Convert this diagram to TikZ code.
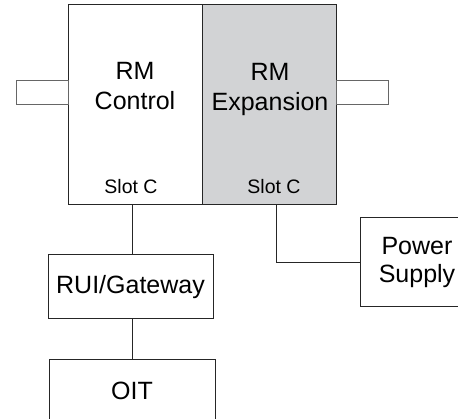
\documentclass[tikz,border=0pt]{standalone}
\usepackage{fontspec}
\setmainfont{Liberation Sans}

\definecolor{expgray}{RGB}{210,211,213}

\tikzset{
	box/.style = {draw = black!85, inner sep = 0pt, align = center, font = \fontsize{25pt}{28pt}\selectfont},
	stub/.style = {draw = black!60, inner sep = 0pt, minimum width = 52pt, minimum height = 24.5pt},
	slotlabel/.style = {inner sep = 0pt, font = \fontsize{19.5pt}{22pt}\selectfont},
	rmlabel/.style = {inner sep = 0pt, align = center, font = \fontsize{25pt}{30pt}\selectfont},
}

\begin{document}
\begin{tikzpicture}[yscale = -1, line width = 1pt]
	\useasboundingbox (0, 0) rectangle (458pt, 419pt);

	% Module
	\node [box, minimum width = 134pt, minimum height = 200pt] (ctrl) at (135pt, 105pt) {};
	\node [box, fill = expgray, minimum width = 134pt, minimum height = 200pt] (exp) at (269pt, 105pt) {};
	\node [stub] (stubl) at (42pt, 92.3pt) {};
	\node [stub] (stubr) at (362pt, 92.3pt) {};

	\node [rmlabel] (ctrlname) at (135pt, 86.5pt) {RM\\Control};
	\node [rmlabel] (expname) at (270pt, 89pt) {RM\\Expansion};
	\node [slotlabel] (slota) at (131pt, 186.5pt) {Slot C};
	\node [slotlabel] (slotb) at (274pt, 186.5pt) {Slot C};

	% Geraete
	\node [box, minimum width = 165pt, minimum height = 64pt] (rui) at (130.5pt, 287pt) {RUI/Gateway};
	\node [box, minimum width = 166pt, minimum height = 62pt] (oit) at (132pt, 391pt) {OIT};
	\node [box, minimum width = 114pt, minimum height = 89pt] (psu) at (417pt, 262.5pt) {Power\\Supply};

	% Leitungen
	\coordinate (porta) at (132pt, 205pt);
	\coordinate (portb) at (276pt, 205pt);
	\begin{scope}[draw = black!85]
		\draw (porta) -- (porta |- rui.north);
		\draw (oit.north) -- (oit.north |- rui.south);
		\draw (portb) |- (psu.west);
	\end{scope}
\end{tikzpicture}
\end{document}
